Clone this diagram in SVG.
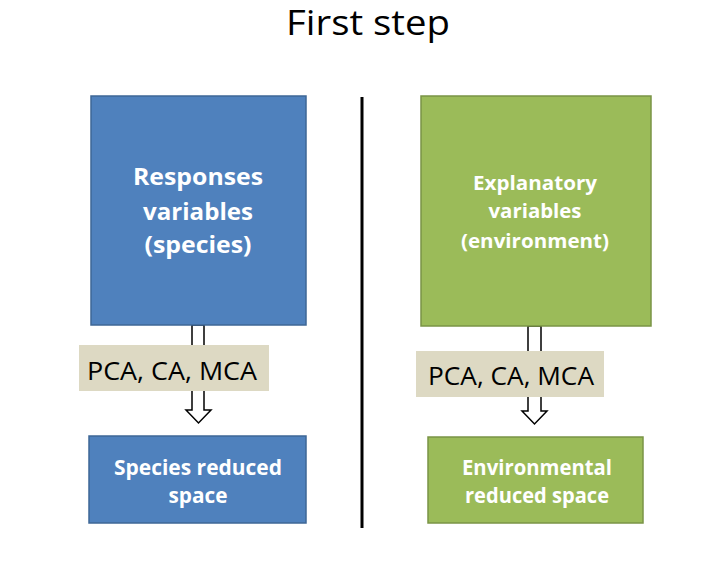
<svg xmlns="http://www.w3.org/2000/svg" width="715" height="562" viewBox="0 0 715 562">
<defs>
<style>
.blue{fill:#4F81BD;stroke:#3E6796;stroke-width:1.5}
.green{fill:#9BBB59;stroke:#7A9446;stroke-width:1.5}
.lab{fill:#DDD9C3}
.wt{font-family:"Open Sans","Liberation Sans",sans-serif;font-weight:bold;fill:#fff;text-anchor:middle}
.bt{font-family:"Open Sans","Liberation Sans",sans-serif;fill:#000;text-anchor:middle}
.arr{fill:#fff;stroke:#000;stroke-width:1.5}
</style>
</defs>
<rect width="715" height="562" fill="#fff"/>
<text class="bt" x="368" y="35" font-size="34" textLength="164" lengthAdjust="spacingAndGlyphs">First step</text>
<g id="connectors">
<line x1="362" y1="97" x2="362" y2="528" stroke="#000" stroke-width="3"/>
<path class="arr" d="M192,325 V410 H186 L198.5,423 L211,410 H204 V325 Z"/>
<path class="arr" d="M528,326 V411 H522 L534.5,424 L547,411 H541 V326 Z"/>
</g>
<g id="responses">
<rect class="blue" x="91" y="96" width="215" height="229"/>
<text class="wt" font-size="23"><tspan x="198" y="185" textLength="130" lengthAdjust="spacingAndGlyphs">Responses</tspan><tspan x="198" y="220" textLength="110" lengthAdjust="spacingAndGlyphs">variables</tspan><tspan x="198" y="253" textLength="107" lengthAdjust="spacingAndGlyphs">(species)</tspan></text>
</g>
<g id="explanatory">
<rect class="green" x="421" y="96" width="230" height="230"/>
<text class="wt" font-size="20"><tspan x="535" y="190" textLength="124" lengthAdjust="spacingAndGlyphs">Explanatory</tspan><tspan x="535" y="218" textLength="93" lengthAdjust="spacingAndGlyphs">variables</tspan><tspan x="535" y="248" textLength="148" lengthAdjust="spacingAndGlyphs">(environment)</tspan></text>
</g>
<g id="label-left">
<rect class="lab" x="79" y="345" width="190" height="46"/>
<text class="bt" x="172" y="380" font-size="26" textLength="170" lengthAdjust="spacingAndGlyphs">PCA, CA, MCA</text>
</g>
<g id="label-right">
<rect class="lab" x="416" y="351" width="188" height="46"/>
<text class="bt" x="511" y="385" font-size="26" textLength="166" lengthAdjust="spacingAndGlyphs">PCA, CA, MCA</text>
</g>
<g id="species-reduced">
<rect class="blue" x="89" y="436" width="217" height="87"/>
<text class="wt" font-size="21"><tspan x="198" y="475" textLength="168" lengthAdjust="spacingAndGlyphs">Species reduced</tspan><tspan x="198" y="503" textLength="59" lengthAdjust="spacingAndGlyphs">space</tspan></text>
</g>
<g id="environmental-reduced">
<rect class="green" x="428" y="437" width="215" height="86"/>
<text class="wt" font-size="21"><tspan x="537" y="475" textLength="150" lengthAdjust="spacingAndGlyphs">Environmental</tspan><tspan x="537" y="503" textLength="144" lengthAdjust="spacingAndGlyphs">reduced space</tspan></text>
</g>
</svg>
